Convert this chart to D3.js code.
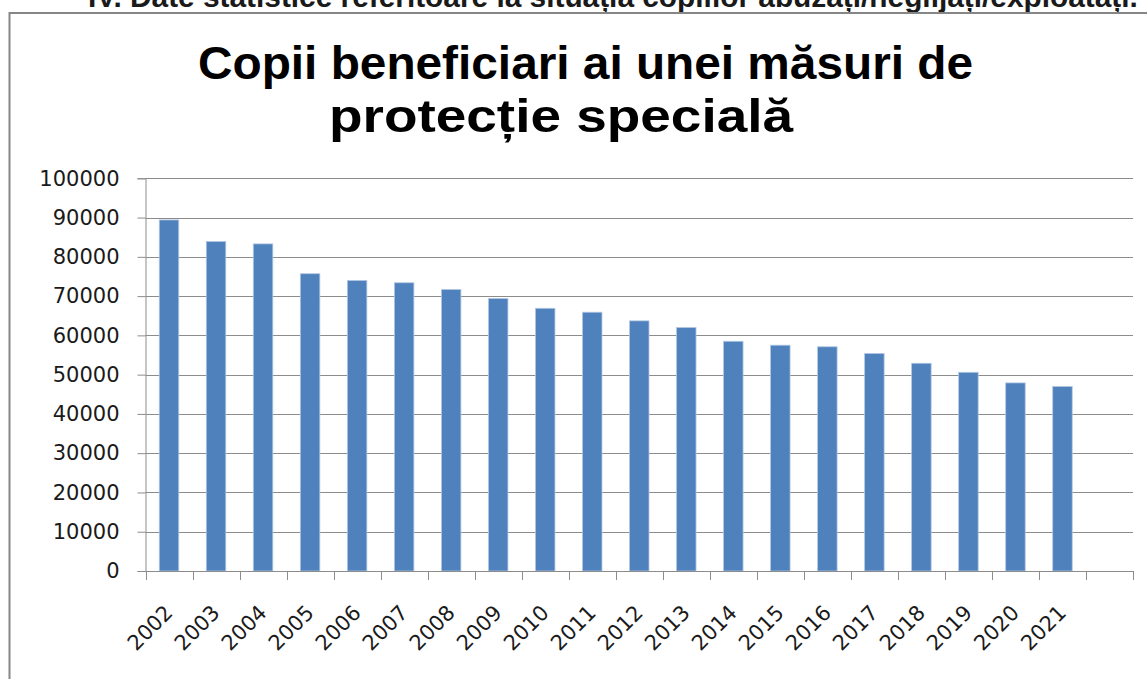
<!DOCTYPE html>
<html>
<head>
<meta charset="utf-8">
<script src="https://cdn.jsdelivr.net/npm/d3@7"></script>
<style>
  html, body { margin: 0; padding: 0; background: #fff; }
  svg { display: block; }
</style>
</head>
<body>
<svg id="chart" width="1147" height="679"></svg>
<script>
// ---- data ----
const headerText = "IV. Date statistice referitoare la situația copiilor abuzați/neglijați/exploatați.";
const titleLines = ["Copii beneficiari ai unei măsuri de", "protecție specială"];
const categories = ["2002","2003","2004","2005","2006","2007","2008","2009","2010","2011",
                    "2012","2013","2014","2015","2016","2017","2018","2019","2020","2021"];
const values = [89400, 83900, 83300, 75700, 74000, 73400, 71700, 69400, 66900, 65900,
                63700, 62000, 58500, 57500, 57100, 55400, 52900, 50600, 47900, 47000];
const yTicks = [0, 10000, 20000, 30000, 40000, 50000, 60000, 70000, 80000, 90000, 100000];
const extraSlot = ["__empty__"];

// ---- layout ----
const svg = d3.select("#chart");
const W = 1147, H = 679;
const plot = { left: 145.5, right: 1133, top: 178.3, bottom: 571 };

const x = d3.scaleBand()
  .domain(categories.concat(extraSlot))
  .range([plot.left, plot.right])
  .paddingInner(0.585)
  .paddingOuter(0.2925);
const y = d3.scaleLinear().domain([0, 100000]).range([plot.bottom, plot.top]);

// header text (cut off at top, as in the source page)
const hdr = svg.append("text")
  .attr("x", 88).attr("y", 7)
  .attr("font-family", "Liberation Sans, Arial, sans-serif")
  .attr("font-weight", "bold")
  .attr("font-size", 22)
  .attr("fill", "#1a1a1a")
  .text(headerText);
const hw = hdr.node().getComputedTextLength();
hdr.attr("font-size", 22 * 1050 / hw);

// chart frame
svg.append("rect")
  .attr("x", 9.5).attr("y", 13)
  .attr("width", W + 20).attr("height", H + 20)
  .attr("fill", "#fff")
  .attr("stroke", "#868686")
  .attr("stroke-width", 2);

// title
const titleStarts = [198, 329];
const titleWidths = [775, 464];
const titleBaselines = [79, 132];
titleLines.forEach((t, i) => {
  svg.append("text")
    .attr("x", titleStarts[i]).attr("y", titleBaselines[i])
    .attr("font-family", "Liberation Sans, Arial, sans-serif")
    .attr("font-weight", "bold")
    .attr("font-size", 47)
    .attr("textLength", titleWidths[i])
    .attr("lengthAdjust", "spacingAndGlyphs")
    .attr("fill", "#000")
    .text(t);
});

// gridlines
svg.append("g").selectAll("line")
  .data(yTicks.filter(d => d > 0))
  .join("line")
  .attr("x1", plot.left).attr("x2", plot.right)
  .attr("y1", d => Math.round(y(d)) + 0.5).attr("y2", d => Math.round(y(d)) + 0.5)
  .attr("stroke", "#8c8c8c").attr("stroke-width", 1);

// y axis
const yAxis = d3.axisLeft(y).tickValues(yTicks).tickSize(8).tickPadding(18)
  .tickFormat(d3.format("d"));
const gy = svg.append("g")
  .attr("transform", `translate(${plot.left},0)`)
  .call(yAxis);
gy.select(".domain").attr("stroke", "#8c8c8c");
gy.selectAll(".tick line").attr("stroke", "#8c8c8c");
gy.selectAll(".tick text")
  .attr("font-family", "DejaVu Sans, sans-serif")
  .attr("font-size", 21)
  .attr("fill", "#1a1a1a");

// bars
svg.append("g").selectAll("rect")
  .data(values)
  .join("rect")
  .attr("x", (d, i) => x(categories[i]))
  .attr("width", x.bandwidth())
  .attr("y", d => y(d))
  .attr("height", d => plot.bottom - y(d))
  .attr("fill", "#4f81bd")
  .attr("stroke", "#b3c8e3")
  .attr("stroke-width", 0.8);

// x axis line & ticks at category boundaries
const step = x.step();
const boundaries = d3.range(categories.length + extraSlot.length + 1).map(i => plot.left + i * step);
svg.append("line")
  .attr("x1", plot.left).attr("x2", plot.right)
  .attr("y1", plot.bottom + 0.5).attr("y2", plot.bottom + 0.5)
  .attr("stroke", "#8c8c8c");
svg.append("g").selectAll("line")
  .data(boundaries)
  .join("line")
  .attr("x1", d => Math.round(d) + 0.5).attr("x2", d => Math.round(d) + 0.5)
  .attr("y1", plot.bottom).attr("y2", plot.bottom + 9)
  .attr("stroke", "#8c8c8c");

// x labels rotated
svg.append("g").selectAll("text")
  .data(categories)
  .join("text")
  .attr("transform", d => `translate(${x(d) + x.bandwidth() / 2 + 5},614) rotate(-45)`)
  .attr("text-anchor", "end")
  .attr("font-family", "DejaVu Sans, sans-serif")
  .attr("font-size", 21)
  .attr("fill", "#1a1a1a")
  .text(d => d);
</script>
</body>
</html>
